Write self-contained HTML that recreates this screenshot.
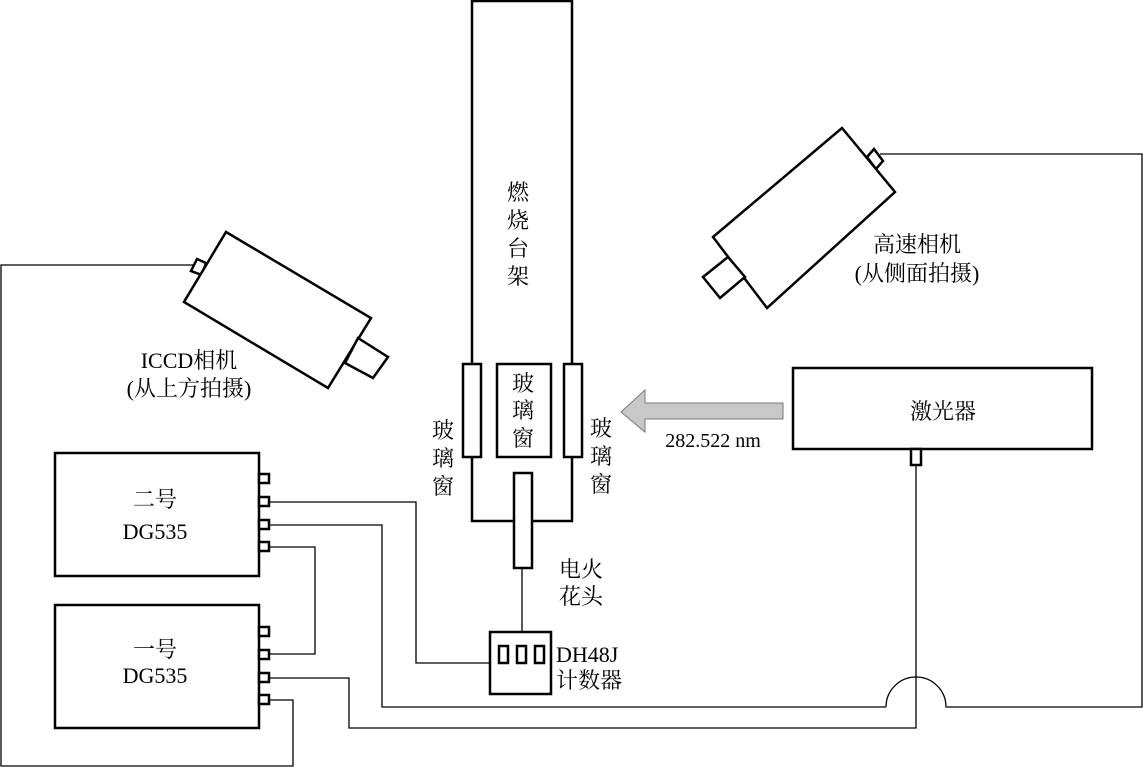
<!DOCTYPE html>
<html><head><meta charset="utf-8"><style>
html,body{margin:0;padding:0;background:#fff}
svg{display:block}
text{font-family:"Liberation Serif","Times New Roman","DejaVu Serif","Noto Serif CJK SC",serif;fill:#000}
</style></head><body>
<svg width="1143" height="767" viewBox="0 0 1143 767" xmlns="http://www.w3.org/2000/svg" font-family="Liberation Serif, Noto Serif CJK SC, serif">
<g fill="none" stroke="#000" stroke-width="1.3">
<polyline points="269,502 416,502 416,663 490,663"/>
<polyline points="269,525 382,525 382,707 886,707"/>
<path d="M886,707 A30,30 0 0 1 946,707 L1142,707 L1142,154 L880,154"/>
<polyline points="269,547 315,547 315,654 269,654"/>
<polyline points="269,678 349,678 349,728 916,728 916,465"/>
<polyline points="269,700 293,700 293,766 1,766 1,265 196,265"/>
<line x1="522" y1="568" x2="522" y2="632"/>
</g>
<g fill="#fff" stroke="#000" stroke-width="2.5">
<rect x="472" y="1" width="100" height="520"/>
<rect x="463" y="364" width="18" height="93"/>
<rect x="497" y="364" width="54" height="93"/>
<rect x="564" y="364" width="18" height="93"/>
<rect x="514" y="473" width="18" height="95"/>
<rect x="490" y="632" width="61" height="62"/>
<rect x="499" y="646" width="9" height="17"/>
<rect x="517" y="646" width="9" height="17"/>
<rect x="535" y="646" width="9" height="17"/>
<rect x="55" y="453" width="204" height="123"/>
<rect x="55" y="605" width="204" height="123"/>
<rect x="259" y="474" width="10" height="9"/>
<rect x="259" y="497" width="10" height="9"/>
<rect x="259" y="520" width="10" height="9"/>
<rect x="259" y="542" width="10" height="9"/>
<rect x="259" y="627" width="10" height="9"/>
<rect x="259" y="650" width="10" height="9"/>
<rect x="259" y="673" width="10" height="9"/>
<rect x="259" y="695" width="10" height="9"/>
<rect x="793" y="368" width="299" height="81"/>
<rect x="911" y="449" width="10" height="16"/>
<polygon points="191,271 197,259 206,263 202,275"/>
<polygon points="226,232 371,318 328,388 184,302"/>
<polygon points="358,338 388,357 373,378 345,363"/>
<polygon points="867,157 874,149 883,161 876,169"/>
<polygon points="842,128 895,192 767,308 713,237"/>
<polygon points="728,257 703,277 720,298 745,277"/>
</g>
<polygon points="621,412 645,390 645,403 783,403 783,419 645,419 645,432" fill="#c8c8c8" stroke="#777" stroke-width="1"/>
<g font-size="22" text-anchor="middle">
<text x="518" y="200">燃</text><text x="518" y="228">烧</text><text x="518" y="256">台</text><text x="518" y="284">架</text>
<text x="523" y="391">玻</text><text x="523" y="418">璃</text><text x="523" y="446">窗</text>
<text x="443" y="438">玻</text><text x="443" y="466">璃</text><text x="443" y="494">窗</text>
<text x="601" y="436">玻</text><text x="601" y="464">璃</text><text x="601" y="492">窗</text>
<text x="581" y="577">电火</text><text x="581" y="604">花头</text>
<text x="713" y="447" font-size="20">282.522 nm</text>
<text x="155" y="507">二号</text><text x="155" y="539">DG535</text>
<text x="155" y="657">一号</text><text x="155" y="683">DG535</text>
<text x="189" y="368">ICCD相机</text><text x="189" y="396">(从上方拍摄)</text>
<text x="917" y="252">高速相机</text><text x="917" y="281">(从侧面拍摄)</text>
<text x="943" y="419">激光器</text>
</g>
<g font-size="22">
<text x="556" y="662">DH48J</text><text x="556" y="688">计数器</text>
</g>
</svg>
</body></html>
